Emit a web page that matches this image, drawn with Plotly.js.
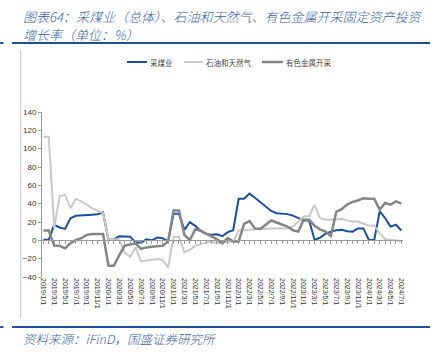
<!DOCTYPE html>
<html>
<head>
<meta charset="utf-8">
<script src="https://cdn.plot.ly/plotly-3.0.1.min.js"></script>
<style>html,body{margin:0;padding:0;background:#fff;}#chart{width:435px;height:355px;}</style>
</head>
<body>
<div id="chart"></div>
<script>
const months = [
"2019/1/1","2019/2/1","2019/3/1","2019/4/1","2019/5/1","2019/6/1","2019/7/1","2019/8/1","2019/9/1","2019/10/1","2019/11/1","2019/12/1",
"2020/1/1","2020/2/1","2020/3/1","2020/4/1","2020/5/1","2020/6/1","2020/7/1","2020/8/1","2020/9/1","2020/10/1","2020/11/1","2020/12/1",
"2021/1/1","2021/2/1","2021/3/1","2021/4/1","2021/5/1","2021/6/1","2021/7/1","2021/8/1","2021/9/1","2021/10/1","2021/11/1","2021/12/1",
"2022/1/1","2022/2/1","2022/3/1","2022/4/1","2022/5/1","2022/6/1","2022/7/1","2022/8/1","2022/9/1","2022/10/1","2022/11/1","2022/12/1",
"2023/1/1","2023/2/1","2023/3/1","2023/4/1","2023/5/1","2023/6/1","2023/7/1","2023/8/1","2023/9/1","2023/10/1","2023/11/1","2023/12/1",
"2024/1/1","2024/2/1","2024/3/1","2024/4/1","2024/5/1","2024/6/1","2024/7/1"];

const tickLabels = [
"2019/1/1","2019/3/1","2019/5/1","2019/7/1","2019/9/1","2019/11/1",
"2020/1/1","2020/3/1","2020/5/1","2020/7/1","2020/9/1","2020/11/1",
"2021/1/1","2021/3/1","2021/5/1","2021/7/1","2021/9/1","2021/11/1",
"2022/1/1","2022/3/1","2022/5/1","2022/7/1","2022/9/1","2022/11/1",
"2023/1/1","2023/3/1","2023/5/1","2023/7/1","2023/9/1","2023/11/1",
"2024/1/1","2024/3/1","2024/5/1","2024/7/1"];

const coal = [
0.5, 0.5, 17, 14, 12.5, 24, 26.8, 27, 27, 28, 28.5, 30.4,
1, 1, 4.5, 4, 4, -2.5, -2.5, 1, 0, 3, 2.3, -1.4,
29, 29, 11.4, 19.8, 15.8, 10.3, 7, 6, 6.7, 4.5, 9, 11,
45.4, 45.4, 51, 46.5, 41.5, 36, 32, 29.5, 29, 28.6, 27, 24.5,
21.6, 21.6, 0.4, 3, 7, 9.5, 11, 11.4, 10, 9.5, 13, 13,
0.4, 0.4, 31.5, 24.3, 15, 17, 10.7];

const oilGas = [
113, 113, 13.6, 48, 49.8, 35, 45.4, 42.5, 39, 35, 32, 29.7,
1.5, 1.5, 1, -13.5, -18, -7.6, -23, -22, -21, -20.5, -21.5, -29.5,
4, 4, -13, -10.5, -6, -4, -2.5, -1.5, -3.2, -2, -1.5, -1.4,
10.7, 10.7, 11.5, 12, 12.5, 12.5, 13, 13, 13.3, 13.3, 15, 20,
26, 26.5, 38.5, 24.3, 22.4, 22.5, 23, 23.4, 21.5, 20.6, 20.6, 18.5,
16, 16, 7.8, 1.2, 0.4, 0, -0.7];

const metals = [
10.7, 10.7, -5.8, -6, -8.7, -3.2, 0.4, 2.3, 6, 7, 7, 7,
-27.7, -27.7, -16, -5.8, -4.5, -3.5, -9.4, -7.7, -7, -6.3, -6, -1.4,
32.6, 32.6, 6, 0.4, 12, 10.5, 7.5, 4.8, 1, -3.2, 2.5, -1.4,
-1.4, 18, 21, 13, 12.5, 17, 21.6, 19.5, 17.5, 15, 11, 9.5,
22.4, 22.4, 16, 12, 9.5, 4.8, 31, 34, 39, 42, 43.5, 46,
45.4, 45.4, 33.4, 40.7, 39, 42.5, 40];

const seriesNames = ["采煤业", "石油和天然气", "有色金属开采"];
const seriesColors = ['#1b4fa3', '#c9c9c9', '#858585'];

const cjk = '"Noto Sans CJK SC", sans-serif';
const num = '"Liberation Sans", Arial, sans-serif';
const blueText = '#3a5fa6';
const blueLine = '#1f4e9a';

const traces = [
  {x: months, y: coal, name: seriesNames[0], type: 'scatter', mode: 'lines',
   line: {color: seriesColors[0], width: 2}},
  {x: months, y: oilGas, name: seriesNames[1], type: 'scatter', mode: 'lines',
   line: {color: seriesColors[1], width: 2}},
  {x: months, y: metals, name: seriesNames[2], type: 'scatter', mode: 'lines',
   line: {color: seriesColors[2], width: 2.5}},
  {x: months, y: months.map(() => null), xaxis: 'x2', type: 'scatter', mode: 'lines',
   showlegend: false, hoverinfo: 'skip'}
];

// manual legend (line sample + label), positions in paper fractions
const legX = [[0.2355, 0.2909], [0.3934, 0.446], [0.6094, 0.6676]];
const legY = 1.303;
const legendShapes = legX.map((p, k) => ({type: 'line', xref: 'paper', yref: 'paper',
  x0: p[0], x1: p[1], y0: legY, y1: legY, line: {color: seriesColors[k], width: k === 2 ? 2.5 : 2}}));
const legendTexts = legX.map((p, k) => ({xref: 'paper', yref: 'paper', x: p[1] + 0.004, y: legY,
  xanchor: 'left', yanchor: 'middle', showarrow: false, text: seriesNames[k],
  font: {family: cjk, size: 7.5, color: '#444'}}));

const xr = [-0.25, 66.3];
const layout = {
  width: 435, height: 355,
  margin: {l: 42, r: 32, t: 112, b: 78},
  paper_bgcolor: '#fff', plot_bgcolor: '#fff',
  showlegend: false,
  xaxis: {type: 'category', categoryarray: months, range: xr,
          tickmode: 'array', tickvals: tickLabels, ticktext: tickLabels,
          tickangle: 90, tickfont: {family: num, size: 7, color: '#333'},
          showline: false, ticks: '', showgrid: false, zeroline: false, fixedrange: true},
  xaxis2: {type: 'category', categoryarray: months, range: xr, overlaying: 'x',
           anchor: 'free', position: 40/180, side: 'bottom',
           showline: true, linecolor: '#9a9a9a', linewidth: 1,
           ticks: 'outside', ticklen: 3, tickcolor: '#9a9a9a', tickwidth: 1,
           tickmode: 'array', tickvals: months, showticklabels: false,
           showgrid: false, zeroline: false},
  yaxis: {range: [-40, 140], dtick: 20, tick0: 0, showline: true, linecolor: '#9a9a9a',
          ticks: 'outside', ticklen: 3, tickcolor: '#9a9a9a',
          tickfont: {family: num, size: 8, color: '#333'},
          showgrid: false, zeroline: false, fixedrange: true},
  shapes: [
    {type: 'line', xref: 'paper', yref: 'paper', x0: -0.083, x1: 1.075, y0: 1.418, y1: 1.418,
     line: {color: blueLine, width: 2}},
    {type: 'line', xref: 'paper', yref: 'paper', x0: -0.116, x1: -0.107, y0: 1.418, y1: 1.418,
     line: {color: blueLine, width: 2}},
    {type: 'line', xref: 'paper', yref: 'paper', x0: -0.083, x1: 1.075, y0: -0.303, y1: -0.303,
     line: {color: blueLine, width: 2}},
    {type: 'line', xref: 'paper', yref: 'paper', x0: -0.116, x1: -0.107, y0: -0.303, y1: -0.303,
     line: {color: blueLine, width: 2}},
    {type: 'line', xref: 'paper', yref: 'paper', x0: -0.059, x1: -0.059, y0: 1.376, y1: -0.248,
     line: {color: '#c4c4c4', width: 1}}
  ].concat(legendShapes),
  annotations: [
    {xref: 'paper', yref: 'paper', x: -0.057, y: 1.576, xanchor: 'left', yanchor: 'middle',
     showarrow: false, text: '图表64：采煤业（总体）、石油和天然气、有色金属开采固定资产投资',
     font: {family: cjk, size: 13, color: blueText, style: 'italic', weight: 300}},
    {xref: 'paper', yref: 'paper', x: -0.057, y: 1.467, xanchor: 'left', yanchor: 'middle',
     showarrow: false, text: '增长率（单位：%）',
     font: {family: cjk, size: 13, color: blueText, style: 'italic', weight: 300}},
    {xref: 'paper', yref: 'paper', x: -0.057, y: -0.37, xanchor: 'left', yanchor: 'middle',
     showarrow: false, text: '资料来源：iFinD，国盛证券研究所',
     font: {family: cjk, size: 12.5, color: blueText, style: 'italic', weight: 300}}
  ].concat(legendTexts)
};

Plotly.newPlot('chart', traces, layout, {displayModeBar: false, staticPlot: true});
</script>
</body>
</html>
